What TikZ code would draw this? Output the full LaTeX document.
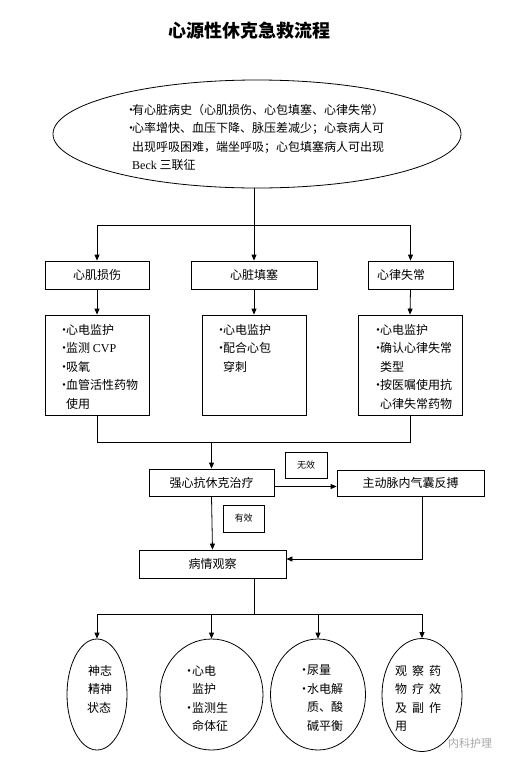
\documentclass[tikz,border=0pt]{standalone}
\usepackage{fontspec}
\setmainfont{Liberation Serif}
\newfontfamily\cjk{Noto Sans CJK SC}
\usetikzlibrary{arrows.meta,shapes.geometric}
\newcommand{\flowdot}[1]{\makebox[#1][l]{·}}
\tikzset{
    flow-box/.style = {draw, line width=0.8pt, rectangle, inner sep=0pt, font=\cjk\fontsize{12}{18}\selectfont},
    flow-oval/.style = {draw, line width=0.8pt, ellipse, inner sep=0pt},
    flow-text/.style = {anchor=north west, align=left, inner sep=0pt, font=\cjk\fontsize{12}{18.5}\selectfont},
    flow-note/.style = {draw, line width=0.8pt, rectangle, inner sep=0pt, font=\cjk\fontsize{9}{11}\selectfont},
    flow-line/.style = {line width=0.8pt},
    flow-arrow/.style = {line width=0.8pt, -{Triangle[length=6pt,width=5pt]}},
}

\begin{document}
\begin{tikzpicture}[x=1pt, y=-1pt]
\useasboundingbox (0,0) rectangle (510,766);
\node[font=\cjk\bfseries\fontsize{18}{20}\selectfont] (title) at (249,31) {心源性休克急救流程};

% history
\node[flow-oval, minimum width=408pt, minimum height=108pt] (history) at (257,134) {};
\node[flow-text] (history-text) at (125,104) {\flowdot{7pt}有心脏病史（心肌损伤、心包填塞、心律失常）\\
    \flowdot{7pt}心率增快、血压下降、脉压差减少；心衰病人可\\
    \hspace*{7pt}出现呼吸困难，端坐呼吸；心包填塞病人可出现\\
    \hspace*{7pt}{\rmfamily Beck} 三联征};

% three causes
\node[flow-box, minimum width=104pt, minimum height=28pt] (injury) at (97,275) {心肌损伤};
\node[flow-box, minimum width=126pt, minimum height=28pt] (tamponade) at (254,275) {心脏填塞};
\node[flow-box, minimum height=28pt, text width=67pt, inner xsep=9pt, align=left] (arrhythmia) at (410.5,275) {心律失常};
\coordinate (split-top) at (254,225);
\draw[flow-line] (tamponade |- history.south) -- (split-top);
\draw[flow-line] (injury |- split-top) -- (arrhythmia |- split-top);
\draw[flow-arrow] (injury |- split-top) -- (injury.north);
\draw[flow-arrow] (split-top) -- (tamponade.north);
\draw[flow-arrow] (arrhythmia |- split-top) -- (arrhythmia.north);

% care for each cause
\node[flow-box, minimum width=104pt, minimum height=100pt] (injury-care) at (97,365) {};
\node[flow-box, minimum width=104pt, minimum height=100pt] (tamponade-care) at (254,365) {};
\node[flow-box, minimum width=104pt, minimum height=100pt] (arrhythmia-care) at (410,365) {};
\node[flow-text] at (58,324) {\flowdot{8pt}心电监护\\ \flowdot{8pt}监测 {\rmfamily CVP}\\ \flowdot{8pt}吸氧\\
    \flowdot{8pt}血管活性药物\\ \hspace*{8pt}使用};
\node[flow-text] at (215,324) {\flowdot{8pt}心电监护\\ \flowdot{8pt}配合心包\\ \hspace*{8pt}穿刺};
\node[flow-text] at (372,324) {\flowdot{8pt}心电监护\\ \flowdot{8pt}确认心律失常\\ \hspace*{8pt}类型\\
    \flowdot{8pt}按医嘱使用抗\\ \hspace*{8pt}心律失常药物};
\draw[flow-arrow] (injury.south) -- (injury-care.north);
\draw[flow-arrow] (tamponade.south) -- (tamponade-care.north);
\draw[flow-arrow] (arrhythmia.south) -- (arrhythmia-care.north);

% treatment
\node[flow-box, minimum width=125pt, minimum height=27pt] (shock) at (211.5,482.5) {强心抗休克治疗};
\node[flow-box, minimum width=147pt, minimum height=26pt] (iabp) at (410.5,483) {主动脉内气囊反搏};
\node[flow-note, minimum width=42pt, minimum height=26pt] (no-effect) at (306,465) {无效};
\node[flow-note, minimum width=41pt, minimum height=27pt] (effect) at (243.5,518.5) {有效};
\node[flow-box, minimum width=147pt, minimum height=28pt] (observe) at (212.5,564) {病情观察};
\coordinate (merge) at (shock |- 0,442);
\draw[flow-line] (injury-care.south) |- (arrhythmia-care |- merge) -- (arrhythmia-care.south);
\draw[flow-arrow] (merge) -- (shock.north);
\draw[flow-arrow] ([yshift=-4pt]shock.east) -- ([yshift=-4pt]shock.east -| iabp.west);
\draw[flow-arrow] (shock.south) -- (observe.north);
\draw[flow-arrow] ([xshift=12pt]iabp.south) |- ([yshift=5pt]observe.east);

% observation items
\node[flow-oval, minimum width=60pt, minimum height=111pt] (mind) at (97,694.5) {};
\node[flow-oval, minimum width=103pt, minimum height=111pt] (monitor) at (211.5,694.5) {};
\node[flow-oval, minimum width=95pt, minimum height=111pt] (fluid) at (318,694.5) {};
\node[flow-oval, minimum width=80pt, minimum height=113pt] (drug) at (422,695) {};
\node[flow-text] at (85,665) {\flowdot{3pt}神志\\ \flowdot{3pt}精神\\ \hspace*{2pt}状态};
\node[flow-text] at (183,665) {\flowdot{9pt}心电\\ \hspace*{9pt}监护\\ \flowdot{9pt}监测生\\ \hspace*{9pt}命体征};
\node[flow-text] at (298,665) {\flowdot{9pt}尿量\\ \flowdot{9pt}水电解\\ \hspace*{9pt}质、酸\\ \hspace*{9pt}碱平衡};
\node[flow-text] at (395,665) {观\hspace{5pt}察\hspace{5pt}药\\ 物\hspace{5pt}疗\hspace{5pt}效\\
    及\hspace{5pt}副\hspace{5pt}作\\ 用};
\coordinate (split-bottom) at (254,614);
\draw[flow-line] (observe.south -| split-bottom) -- (split-bottom);
\draw[flow-line] (mind |- split-bottom) -- (drug |- split-bottom);
\draw[flow-arrow] (mind |- split-bottom) -- (mind.north);
\draw[flow-arrow] (monitor |- split-bottom) -- (monitor.north);
\draw[flow-arrow] (fluid |- split-bottom) -- (fluid.north);
\draw[flow-arrow] (drug |- split-bottom) -- (drug.north);

\node[font=\cjk\fontsize{11}{12}\selectfont, text=black!35] (mark) at (470,743) {内科护理};
\end{tikzpicture}
\end{document}
